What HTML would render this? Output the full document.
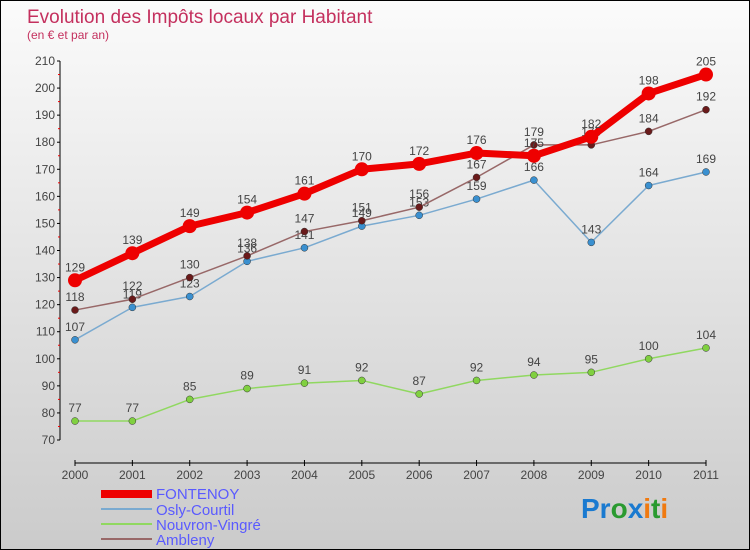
<!DOCTYPE html>
<html><head><meta charset="utf-8"><style>
body{margin:0}
#c{width:748px;height:548px;border:1px solid #000;background:linear-gradient(#fbfbfb,#cbcbcb);position:relative;font-family:"Liberation Sans",sans-serif;overflow:hidden}
</style></head><body>
<div id="c">
<svg id="s" width="748" height="548" xmlns="http://www.w3.org/2000/svg">
<text x="26" y="22" font-size="19" fill="#c4305e">Evolution des Impôts locaux par Habitant</text>
<text x="26" y="38" font-size="12" fill="#c4305e">(en € et par an)</text>
<g id="axes"></g><g id="series"></g>
<g>
<rect x="100" y="489" width="51" height="8" fill="#e00"/>
<text x="155" y="498" font-size="15" fill="#5a5aff">FONTENOY</text>
<line x1="100" y1="508" x2="151" y2="508" stroke="#7aaad0" stroke-width="2"/>
<text x="155" y="514" font-size="15" fill="#5a5aff">Osly-Courtil</text>
<line x1="100" y1="523" x2="151" y2="523" stroke="#90d860" stroke-width="2"/>
<text x="155" y="529" font-size="15" fill="#5a5aff">Nouvron-Vingré</text>
<line x1="100" y1="538" x2="151" y2="538" stroke="#986868" stroke-width="2"/>
<text x="155" y="544" font-size="15" fill="#5a5aff">Ambleny</text>
</g>
<text x="580" y="517" font-size="28" font-weight="bold"><tspan fill="#1a7ad0">Pr</tspan><tspan fill="#2a9a30">o</tspan><tspan fill="#1a7ad0">x</tspan><tspan fill="#f07a10">i</tspan><tspan fill="#2a9a30">t</tspan><tspan fill="#f07a10">i</tspan></text>
</svg>
</div>
<script>
const years=[2000,2001,2002,2003,2004,2005,2006,2007,2008,2009,2010,2011];
const fontenoy=[129,139,149,154,161,170,172,176,175,182,198,205];
const osly=[107,119,123,136,141,149,153,159,166,143,164,169];
const nouvron=[77,77,85,89,91,92,87,92,94,95,100,104];
const ambleny=[118,122,130,138,147,151,156,167,179,179,184,192];
const yTicks=[70,80,90,100,110,120,130,140,150,160,170,180,190,200,210];
const NS="http://www.w3.org/2000/svg";
const X=i=>74+i*(705-74)/11;
const Y=v=>439-(v-70)*(379/140);
function mk(t,a,p){const e=document.createElementNS(NS,t);for(const k in a)e.setAttribute(k,a[k]);p.appendChild(e);return e;}
const ax=document.getElementById('axes');
let l=mk('line',{x1:59,y1:Y(210),x2:59,y2:Y(70),stroke:'#000'},ax);


l=mk('line',{x1:X(0),y1:462,x2:X(11),y2:462,stroke:'#000'},ax);


yTicks.forEach(v=>{
 mk('line',{x1:56,y1:Y(v),x2:59,y2:Y(v),stroke:'#000'},ax);
 if(v<210)mk('line',{x1:57,y1:Y(v+5),x2:59,y2:Y(v+5),stroke:'#e00'},ax);
 const t=mk('text',{x:54,y:Y(v)+4,'font-size':12,fill:'#444','text-anchor':'end'},ax);t.textContent=v;
 
 
});
years.forEach((y,i)=>{
 mk('line',{x1:X(i),y1:459,x2:X(i),y2:465,stroke:'#000'},ax);
 const t=mk('text',{x:X(i),y:465+13,'font-size':12,fill:'#444','text-anchor':'middle'},ax);t.textContent=y;
 
 
});
const sg=document.getElementById('series');
function series(data,col,dot,w,r,name){
 const g=mk('g',{},sg);
 
 
 mk('polyline',{points:data.map((v,i)=>X(i)+','+Y(v)).join(' '),fill:'none',stroke:col,'stroke-width':w,'stroke-linejoin':'round'},g);
 data.forEach((v,i)=>{
  const c=mk('circle',{cx:X(i),cy:Y(v),r:r,fill:dot,stroke:w>3?'none':'#333','stroke-width':0.5},g);
  
  
  const t=mk('text',{x:X(i),y:Y(v)-9,'font-size':12,fill:'#444','text-anchor':'middle'},g);t.textContent=v;
  
  
 });
}
series(nouvron,'#90d860','#80d040',1.5,3.5,'nouvron');
series(osly,'#7aaad0','#3a90d0',1.5,3.5,'osly');
series(ambleny,'#986868','#6a1a1a',1.5,3.5,'ambleny');
series(fontenoy,'#ee0000','#ee0000',7,7,'fontenoy');
</script>
</body></html>
